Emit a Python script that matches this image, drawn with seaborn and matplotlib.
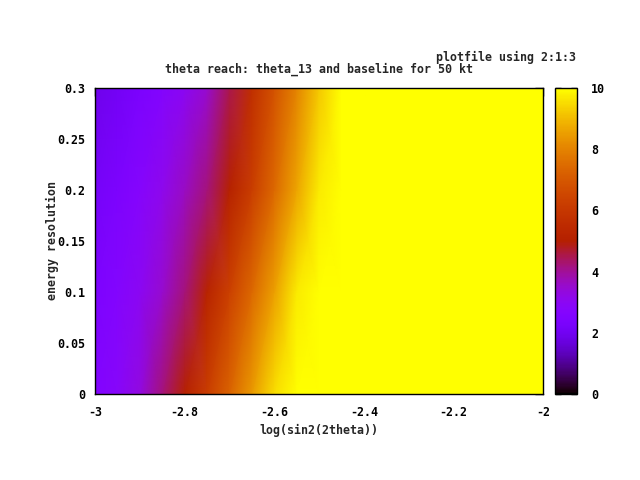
import numpy as np
import matplotlib
matplotlib.use("Agg")
import matplotlib.pyplot as plt
import seaborn as sns
from matplotlib.colors import ListedColormap

# ---- data ----
x_vals = [-3.0, -2.95, -2.9, -2.85, -2.8, -2.75, -2.7, -2.65, -2.6, -2.55, -2.5,
          -2.45, -2.4, -2.35, -2.3, -2.25, -2.2, -2.15, -2.1, -2.05, -2.0]
y_vals = [0.0, 0.1, 0.2, 0.3]
z_y000 = [2.6, 2.85, 3.3, 4.2, 5.1, 6.2, 7.3, 8.4, 9.5, 10.6, 11.7,
          12, 12, 12, 12, 12, 12, 12, 12, 12, 12]
z_y010 = [2.4, 2.65, 3.0, 3.5, 4.2, 5.2, 6.3, 7.4, 8.55, 9.7, 10.8,
          12, 12, 12, 12, 12, 12, 12, 12, 12, 12]
z_y020 = [2.15, 2.4, 2.7, 3.1, 3.6, 4.2, 5.1, 6.2, 7.4, 8.6, 9.7,
          10.9, 12, 12, 12, 12, 12, 12, 12, 12, 12]
z_y030 = [1.9, 2.1, 2.35, 2.65, 3.0, 3.5, 4.5, 5.7, 6.85, 8.0, 9.2,
          10.3, 11.5, 12, 12, 12, 12, 12, 12, 12, 12]
x_ticks = [-3, -2.8, -2.6, -2.4, -2.2, -2]
x_tick_labels = ["-3", "-2.8", "-2.6", "-2.4", "-2.2", "-2"]
y_ticks = [0, 0.05, 0.1, 0.15, 0.2, 0.25, 0.3]
y_tick_labels = ["0", "0.05", "0.1", "0.15", "0.2", "0.25", "0.3"]
cb_ticks = [0, 2, 4, 6, 8, 10]
cb_tick_labels = ["0", "2", "4", "6", "8", "10"]

sns.set_style("white")
plt.rcParams["font.family"] = ["DejaVu Sans Mono", "DejaVu Sans"]
plt.rcParams["font.weight"] = "bold"
FS = 8.4

# gnuplot default palette (rgbformulae 7,5,15)
g = np.linspace(0, 1, 256)
rgb = np.stack([np.sqrt(g), g ** 3, np.clip(np.sin(2 * np.pi * g), 0, 1)], axis=1)
cmap = ListedColormap(rgb)

W, H = 640, 480
fig = plt.figure(figsize=(6.4, 4.8), dpi=100)
L, R, T, B = 95, 543, 88, 394
ax = fig.add_axes([L / W, 1 - B / H, (R - L) / W, (B - T) / H])

X, Y = np.meshgrid(np.array(x_vals), np.array(y_vals))
Z = np.array([z_y000, z_y010, z_y020, z_y030])
mesh = ax.pcolormesh(X, Y, Z, cmap=cmap, vmin=0, vmax=10, shading="gouraud")
ax.set_xlim(-3, -2)
ax.set_ylim(0, 0.3)

ax.set_xticks(x_ticks)
ax.set_xticklabels(x_tick_labels, fontsize=FS, fontweight="bold")
ax.set_yticks(y_ticks)
ax.set_yticklabels(y_tick_labels, fontsize=FS, fontweight="bold")
ax.tick_params(direction="in", length=6, width=1, top=True, right=True,
               colors="black", labelcolor="black")
ax.tick_params(axis="x", pad=9)
ax.tick_params(axis="y", pad=7)
for s in ax.spines.values():
    s.set_visible(True)
    s.set_color("black")
    s.set_linewidth(1)

# colorbar
cax = fig.add_axes([555 / W, 1 - B / H, 22 / W, (B - T) / H])
cb = fig.colorbar(mesh, cax=cax)
cb.set_ticks(cb_ticks)
cb.set_ticklabels(cb_tick_labels)
cax.tick_params(direction="in", length=4, width=1, left=True, right=True,
                labelsize=FS, pad=10, colors="black", labelcolor="black")
for lbl in cax.get_yticklabels():
    lbl.set_fontweight("bold")
cb.outline.set_edgecolor("black")
cb.outline.set_linewidth(1)

# texts
fig.text(319 / W, 1 - 430 / H, "log(sin2(2theta))", ha="center", va="center",
         fontsize=FS, fontweight="bold")
fig.text(52 / W, 1 - 241 / H, "energy resolution", ha="center", va="center",
         rotation=90, fontsize=FS, fontweight="bold")
fig.text(319 / W, 1 - 69 / H, "theta reach: theta_13 and baseline for 50 kt",
         ha="center", va="center", fontsize=FS, fontweight="bold")
fig.text(436 / W, 1 - 57 / H, "plotfile using 2:1:3", ha="left", va="center",
         fontsize=FS, fontweight="bold")

fig.savefig("out.png", dpi=100, facecolor="white")
